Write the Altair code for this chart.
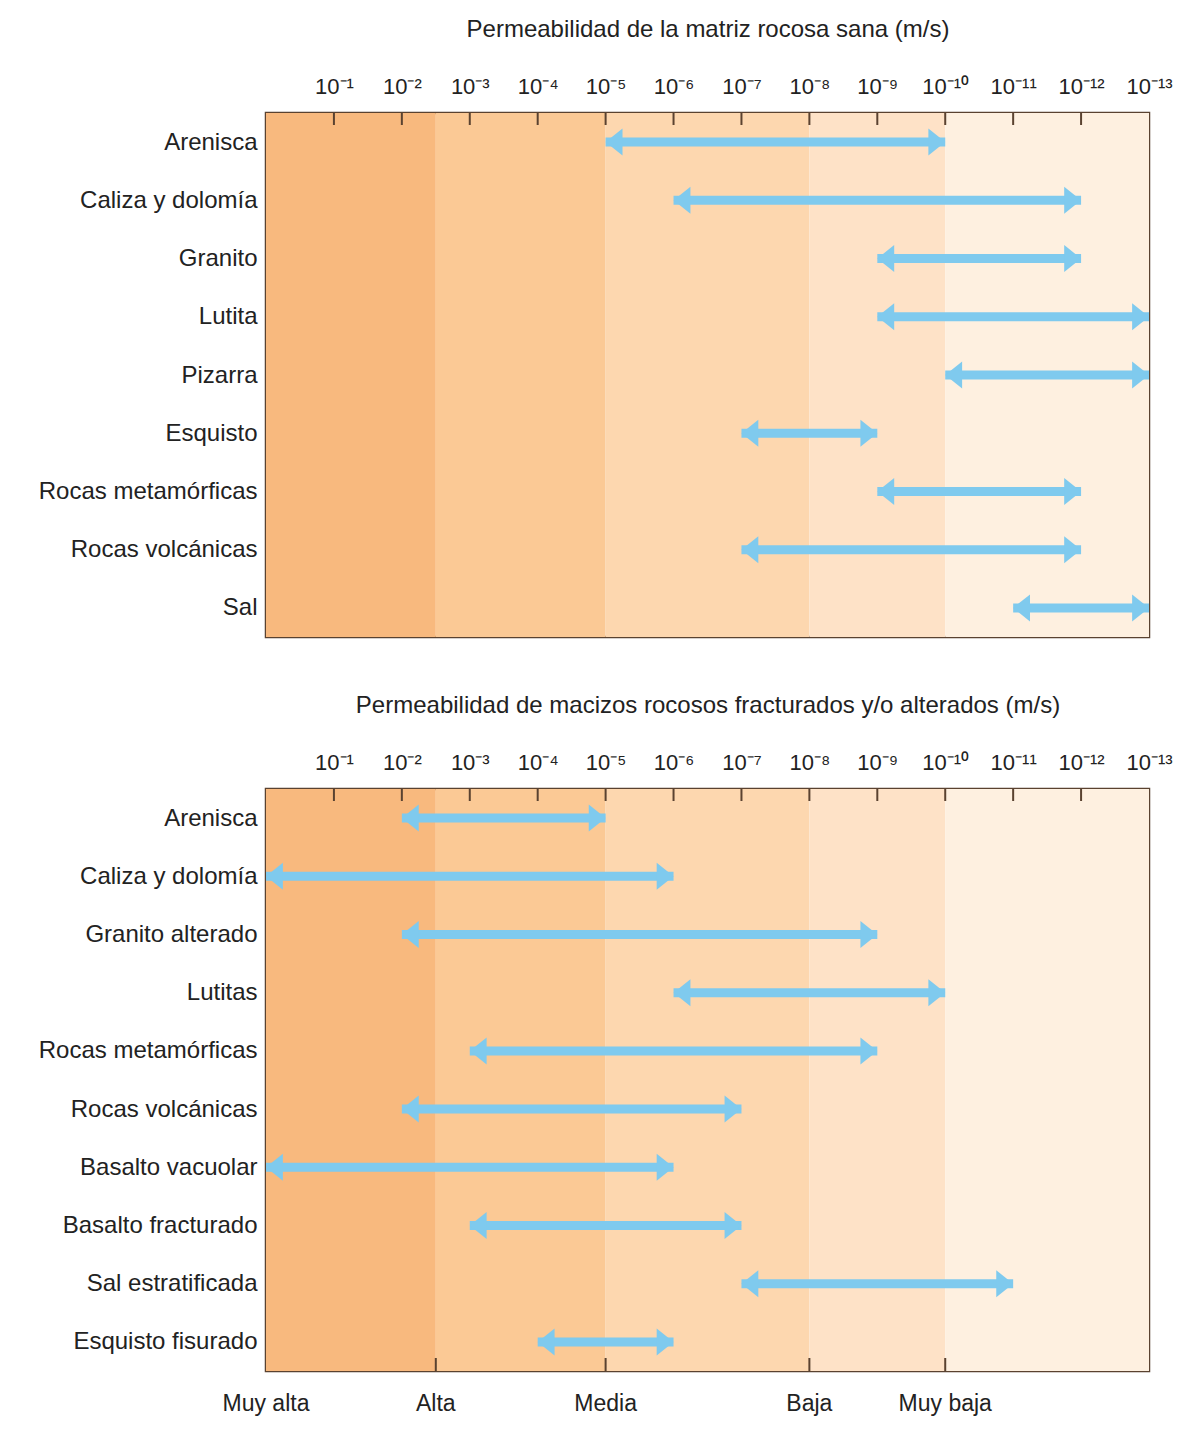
import altair as alt
import pandas as pd

# ---- data ----
tick_exponents = list(range(1, 14))
sup = {"0": "⁰", "1": "¹", "2": "²", "3": "³", "4": "⁴", "5": "⁵",
       "6": "⁶", "7": "⁷", "8": "⁸", "9": "⁹"}
tick_labels = ["10⁻" + "".join(sup[c] for c in str(e)) for e in tick_exponents]

band_names = ["Muy alta", "Alta", "Media", "Baja", "Muy baja"]
band_start = [0, 2.5, 5, 8, 10]
band_end = [2.5, 5, 8, 10, 13]

rocks1 = ["Arenisca", "Caliza y dolomía", "Granito", "Lutita", "Pizarra",
          "Esquisto", "Rocas metamórficas", "Rocas volcánicas", "Sal"]
lo1 = [5, 6, 9, 9, 10, 7, 9, 7, 11]
hi1 = [10, 12, 12, 13, 13, 9, 12, 12, 13]

rocks2 = ["Arenisca", "Caliza y dolomía", "Granito alterado", "Lutitas",
          "Rocas metamórficas", "Rocas volcánicas", "Basalto vacuolar",
          "Basalto fracturado", "Sal estratificada", "Esquisto fisurado"]
lo2 = [2, 0, 2, 6, 3, 2, 0, 3, 7, 4]
hi2 = [5, 6, 9, 10, 9, 7, 6, 7, 11, 6]

title1 = "Permeabilidad de la matriz rocosa sana (m/s)"
title2 = "Permeabilidad de macizos rocosos fracturados y/o alterados (m/s)"

# ---- styles ----
band_colors = ["#f8b97e", "#fbc995", "#fdd7af", "#fee2c7", "#fef0e0"]
arrow_color = "#7fcaee"
frame_color = "#5a4230"
text_color = "#222222"
FONT = "Liberation Sans"
W = 883


def arr_expr(items):
    return "[" + ",".join("'" + s + "'" for s in items) + "][datum.value]"


label_expr_top = arr_expr([""] + tick_labels)

xscale = alt.Scale(domain=[0, 13], nice=False, zero=False)

left_path = "M0,0L1.25,-1L1.25,1Z"
right_path = "M0,0L-1.25,-1L-1.25,1Z"


def panel(rocks, lo, hi, title, height, bottom_axis):
    n = len(rocks)
    df = pd.DataFrame({"rock": rocks, "idx": list(range(n)), "lo": lo, "hi": hi})
    bands = pd.DataFrame({"band": band_names, "start": band_start, "end": band_end})
    ticks = pd.DataFrame({"e": tick_exponents[:-1]})
    yscale = alt.Scale(domain=[-0.5, n - 0.5], reverse=True, nice=False, zero=False)

    xaxis = alt.Axis(orient="top", title=title, values=tick_exponents,
                     labelExpr=label_expr_top, ticks=False, domain=False,
                     grid=False, labelPadding=15, titlePadding=34,
                     labelFontSize=22, labelColor=text_color,
                     titleFontSize=24, titleFontWeight="normal",
                     titleColor=text_color, labelFlush=False,
                     labelOverlap=False, labelFont=FONT, titleFont=FONT)
    yaxis = alt.Axis(title=None, ticks=False, domain=False, grid=False,
                     values=list(range(n)), labelExpr=arr_expr(rocks),
                     labelPadding=9, labelFontSize=24, labelColor=text_color,
                     labelLimit=400, minExtent=251, maxExtent=251,
                     labelOverlap=False, labelFlush=False, labelFont=FONT)

    def X(f):
        return alt.X(f, scale=xscale, axis=xaxis)

    def Y():
        return alt.Y("idx:Q", scale=yscale, axis=yaxis)

    bg = alt.Chart(bands).mark_rect().encode(
        x=X("start:Q"),
        x2="end:Q",
        color=alt.Color("band:N", scale=alt.Scale(domain=band_names, range=band_colors),
                        legend=None),
    )
    top_ticks = alt.Chart(ticks).mark_rule(color=frame_color, strokeWidth=2).encode(
        x=X("e:Q"),
        y=alt.value(0),
        y2=alt.value(12),
    )
    shaft = alt.Chart(df).mark_rule(color=arrow_color, strokeWidth=9).encode(
        x=X("lo:Q"),
        x2="hi:Q",
        y=Y(),
    )
    head_l = alt.Chart(df).mark_point(shape=left_path, filled=True, size=729,
                                      color=arrow_color, opacity=1, strokeWidth=0).encode(
        x=X("lo:Q"),
        y=Y(),
    )
    head_r = alt.Chart(df).mark_point(shape=right_path, filled=True, size=729,
                                      color=arrow_color, opacity=1, strokeWidth=0).encode(
        x=X("hi:Q"),
        y=Y(),
    )
    layers = [bg, top_ticks, shaft, head_l, head_r]
    if bottom_axis:
        bt = pd.DataFrame({"v": band_start, "name": band_names})
        bottom_ticks = alt.Chart(bt).transform_filter("datum.v > 0").mark_rule(
            color=frame_color, strokeWidth=2).encode(
            x=X("v:Q"),
            y=alt.value(height),
            y2=alt.value(height - 13),
        )
        bottom_labels = alt.Chart(bt).mark_text(
            fontSize=23, color=text_color, font=FONT, baseline="middle", align="center"
        ).encode(
            x=X("v:Q"),
            y=alt.value(height + 33),
            text="name:N",
        )
        layers += [bottom_ticks, bottom_labels]
    return alt.layer(*layers).properties(width=W, height=height)


p1 = panel(rocks1, lo1, hi1, title1, 524, False)
p2 = panel(rocks2, lo2, hi2, title2, 582, True)

chart = alt.vconcat(p1, p2, spacing=52).properties(
    padding={"left": 5, "top": 7, "right": 5, "bottom": 5}
).configure(font=FONT).configure_view(
    stroke=frame_color, strokeWidth=2.5
)

chart.save("out.html", embed_options={"renderer": "svg", "actions": False})
